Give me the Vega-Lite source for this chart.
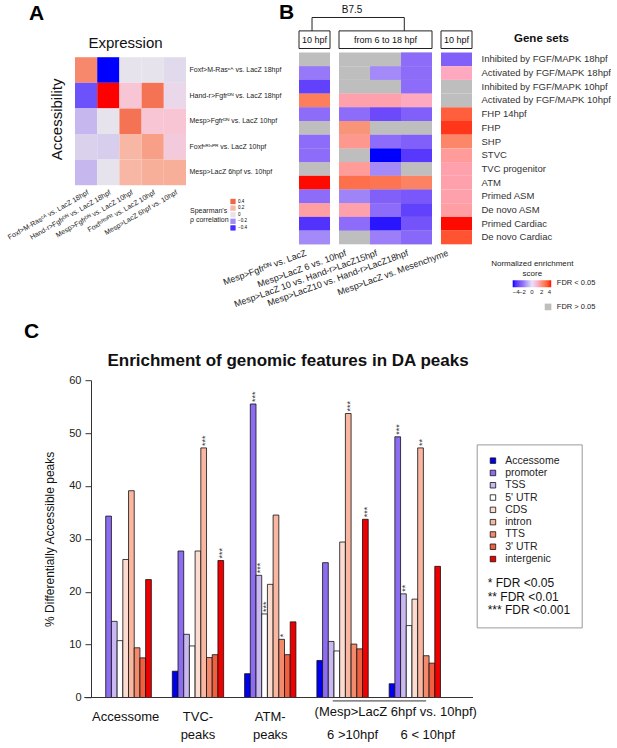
{
"$schema": "https://vega.github.io/schema/vega-lite/v6.json",
"background": "white",
"padding": {"left": 6, "top": 1.5, "right": 0, "bottom": 0},
"config": {
  "font": "Liberation Sans",
  "view": {"stroke": null},
  "axis": {"labelFont": "Liberation Sans", "titleFont": "Liberation Sans"},
  "legend": {"labelFont": "Liberation Sans", "titleFont": "Liberation Sans"},
  "title": {"font": "Liberation Sans", "color": "#000"}
},
"datasets": {
  "A": [
    {"acc": "Foxf>M-Rasᶜᴬ vs. LacZ 18hpf", "expr": "Foxf>M-Rasᶜᴬ vs. LacZ 18hpf", "rho": 0.32},
    {"acc": "Foxf>M-Rasᶜᴬ vs. LacZ 18hpf", "expr": "Hand-r>Fgfrᴰᴺ vs. LacZ 18hpf", "rho": -0.45},
    {"acc": "Foxf>M-Rasᶜᴬ vs. LacZ 18hpf", "expr": "Mesp>Fgfrᴰᴺ vs. LacZ 10hpf", "rho": 0.0},
    {"acc": "Foxf>M-Rasᶜᴬ vs. LacZ 18hpf", "expr": "Foxfᶜᴿᴵˢᴾᴿ vs. LacZ 10hpf", "rho": 0.0},
    {"acc": "Foxf>M-Rasᶜᴬ vs. LacZ 18hpf", "expr": "Mesp>LacZ 6hpf vs. 10hpf", "rho": -0.02},
    {"acc": "Hand-r>Fgfrᴰᴺ vs. LacZ 18hpf", "expr": "Foxf>M-Rasᶜᴬ vs. LacZ 18hpf", "rho": -0.33},
    {"acc": "Hand-r>Fgfrᴰᴺ vs. LacZ 18hpf", "expr": "Hand-r>Fgfrᴰᴺ vs. LacZ 18hpf", "rho": 0.5},
    {"acc": "Hand-r>Fgfrᴰᴺ vs. LacZ 18hpf", "expr": "Mesp>Fgfrᴰᴺ vs. LacZ 10hpf", "rho": 0.12},
    {"acc": "Hand-r>Fgfrᴰᴺ vs. LacZ 18hpf", "expr": "Foxfᶜᴿᴵˢᴾᴿ vs. LacZ 10hpf", "rho": 0.37},
    {"acc": "Hand-r>Fgfrᴰᴺ vs. LacZ 18hpf", "expr": "Mesp>LacZ 6hpf vs. 10hpf", "rho": 0.05},
    {"acc": "Mesp>Fgfrᴰᴺ vs. LacZ 10hpf", "expr": "Foxf>M-Rasᶜᴬ vs. LacZ 18hpf", "rho": -0.1},
    {"acc": "Mesp>Fgfrᴰᴺ vs. LacZ 10hpf", "expr": "Hand-r>Fgfrᴰᴺ vs. LacZ 18hpf", "rho": 0.0},
    {"acc": "Mesp>Fgfrᴰᴺ vs. LacZ 10hpf", "expr": "Mesp>Fgfrᴰᴺ vs. LacZ 10hpf", "rho": 0.37},
    {"acc": "Mesp>Fgfrᴰᴺ vs. LacZ 10hpf", "expr": "Foxfᶜᴿᴵˢᴾᴿ vs. LacZ 10hpf", "rho": 0.12},
    {"acc": "Mesp>Fgfrᴰᴺ vs. LacZ 10hpf", "expr": "Mesp>LacZ 6hpf vs. 10hpf", "rho": 0.12},
    {"acc": "Foxfᶜᴿᴵˢᴾᴿ vs. LacZ 10hpf", "expr": "Foxf>M-Rasᶜᴬ vs. LacZ 18hpf", "rho": -0.04},
    {"acc": "Foxfᶜᴿᴵˢᴾᴿ vs. LacZ 10hpf", "expr": "Hand-r>Fgfrᴰᴺ vs. LacZ 18hpf", "rho": -0.05},
    {"acc": "Foxfᶜᴿᴵˢᴾᴿ vs. LacZ 10hpf", "expr": "Mesp>Fgfrᴰᴺ vs. LacZ 10hpf", "rho": 0.2},
    {"acc": "Foxfᶜᴿᴵˢᴾᴿ vs. LacZ 10hpf", "expr": "Foxfᶜᴿᴵˢᴾᴿ vs. LacZ 10hpf", "rho": 0.26},
    {"acc": "Foxfᶜᴿᴵˢᴾᴿ vs. LacZ 10hpf", "expr": "Mesp>LacZ 6hpf vs. 10hpf", "rho": 0.1},
    {"acc": "Mesp>LacZ 6hpf vs. 10hpf", "expr": "Foxf>M-Rasᶜᴬ vs. LacZ 18hpf", "rho": -0.1},
    {"acc": "Mesp>LacZ 6hpf vs. 10hpf", "expr": "Hand-r>Fgfrᴰᴺ vs. LacZ 18hpf", "rho": 0.0},
    {"acc": "Mesp>LacZ 6hpf vs. 10hpf", "expr": "Mesp>Fgfrᴰᴺ vs. LacZ 10hpf", "rho": 0.2},
    {"acc": "Mesp>LacZ 6hpf vs. 10hpf", "expr": "Foxfᶜᴿᴵˢᴾᴿ vs. LacZ 10hpf", "rho": 0.22},
    {"acc": "Mesp>LacZ 6hpf vs. 10hpf", "expr": "Mesp>LacZ 6hpf vs. 10hpf", "rho": 0.22}
  ],
  "B": [
    {"k": "Mesp>Fgfrᴰᴺ vs. LacZ", "g": "Inhibited by FGF/MAPK 18hpf", "nes": null, "fdr": "FDR > 0.05"},
    {"k": "Mesp>Fgfrᴰᴺ vs. LacZ", "g": "Activated by FGF/MAPK 18hpf", "nes": -1.8, "fdr": "FDR < 0.05"},
    {"k": "Mesp>Fgfrᴰᴺ vs. LacZ", "g": "Inhibited by FGF/MAPK 10hpf", "nes": -3.0, "fdr": "FDR < 0.05"},
    {"k": "Mesp>Fgfrᴰᴺ vs. LacZ", "g": "Activated by FGF/MAPK 10hpf", "nes": 2.5, "fdr": "FDR < 0.05"},
    {"k": "Mesp>Fgfrᴰᴺ vs. LacZ", "g": "FHP 14hpf", "nes": -2.0, "fdr": "FDR < 0.05"},
    {"k": "Mesp>Fgfrᴰᴺ vs. LacZ", "g": "FHP", "nes": null, "fdr": "FDR > 0.05"},
    {"k": "Mesp>Fgfrᴰᴺ vs. LacZ", "g": "SHP", "nes": -2.0, "fdr": "FDR < 0.05"},
    {"k": "Mesp>Fgfrᴰᴺ vs. LacZ", "g": "STVC", "nes": -2.0, "fdr": "FDR < 0.05"},
    {"k": "Mesp>Fgfrᴰᴺ vs. LacZ", "g": "TVC progenitor", "nes": null, "fdr": "FDR > 0.05"},
    {"k": "Mesp>Fgfrᴰᴺ vs. LacZ", "g": "ATM", "nes": 4.0, "fdr": "FDR < 0.05"},
    {"k": "Mesp>Fgfrᴰᴺ vs. LacZ", "g": "Primed ASM", "nes": -2.0, "fdr": "FDR < 0.05"},
    {"k": "Mesp>Fgfrᴰᴺ vs. LacZ", "g": "De novo ASM", "nes": 1.6, "fdr": "FDR < 0.05"},
    {"k": "Mesp>Fgfrᴰᴺ vs. LacZ", "g": "Primed Cardiac", "nes": -3.3, "fdr": "FDR < 0.05"},
    {"k": "Mesp>Fgfrᴰᴺ vs. LacZ", "g": "De novo Cardiac", "nes": -1.5, "fdr": "FDR < 0.05"},
    {"k": "Mesp>LacZ 6 vs. 10hpf", "g": "Inhibited by FGF/MAPK 18hpf", "nes": null, "fdr": "FDR > 0.05"},
    {"k": "Mesp>LacZ 6 vs. 10hpf", "g": "Activated by FGF/MAPK 18hpf", "nes": null, "fdr": "FDR > 0.05"},
    {"k": "Mesp>LacZ 6 vs. 10hpf", "g": "Inhibited by FGF/MAPK 10hpf", "nes": null, "fdr": "FDR > 0.05"},
    {"k": "Mesp>LacZ 6 vs. 10hpf", "g": "Activated by FGF/MAPK 10hpf", "nes": 1.5, "fdr": "FDR < 0.05"},
    {"k": "Mesp>LacZ 6 vs. 10hpf", "g": "FHP 14hpf", "nes": -2.0, "fdr": "FDR < 0.05"},
    {"k": "Mesp>LacZ 6 vs. 10hpf", "g": "FHP", "nes": 2.0, "fdr": "FDR < 0.05"},
    {"k": "Mesp>LacZ 6 vs. 10hpf", "g": "SHP", "nes": 1.8, "fdr": "FDR < 0.05"},
    {"k": "Mesp>LacZ 6 vs. 10hpf", "g": "STVC", "nes": null, "fdr": "FDR > 0.05"},
    {"k": "Mesp>LacZ 6 vs. 10hpf", "g": "TVC progenitor", "nes": 1.7, "fdr": "FDR < 0.05"},
    {"k": "Mesp>LacZ 6 vs. 10hpf", "g": "ATM", "nes": 2.8, "fdr": "FDR < 0.05"},
    {"k": "Mesp>LacZ 6 vs. 10hpf", "g": "Primed ASM", "nes": -1.6, "fdr": "FDR < 0.05"},
    {"k": "Mesp>LacZ 6 vs. 10hpf", "g": "De novo ASM", "nes": 1.5, "fdr": "FDR < 0.05"},
    {"k": "Mesp>LacZ 6 vs. 10hpf", "g": "Primed Cardiac", "nes": -2.0, "fdr": "FDR < 0.05"},
    {"k": "Mesp>LacZ 6 vs. 10hpf", "g": "De novo Cardiac", "nes": null, "fdr": "FDR > 0.05"},
    {"k": "Mesp>LacZ 10 vs. Hand-r>LacZ15hpf", "g": "Inhibited by FGF/MAPK 18hpf", "nes": null, "fdr": "FDR > 0.05"},
    {"k": "Mesp>LacZ 10 vs. Hand-r>LacZ15hpf", "g": "Activated by FGF/MAPK 18hpf", "nes": -1.5, "fdr": "FDR < 0.05"},
    {"k": "Mesp>LacZ 10 vs. Hand-r>LacZ15hpf", "g": "Inhibited by FGF/MAPK 10hpf", "nes": null, "fdr": "FDR > 0.05"},
    {"k": "Mesp>LacZ 10 vs. Hand-r>LacZ15hpf", "g": "Activated by FGF/MAPK 10hpf", "nes": 1.5, "fdr": "FDR < 0.05"},
    {"k": "Mesp>LacZ 10 vs. Hand-r>LacZ15hpf", "g": "FHP 14hpf", "nes": -2.8, "fdr": "FDR < 0.05"},
    {"k": "Mesp>LacZ 10 vs. Hand-r>LacZ15hpf", "g": "FHP", "nes": null, "fdr": "FDR > 0.05"},
    {"k": "Mesp>LacZ 10 vs. Hand-r>LacZ15hpf", "g": "SHP", "nes": -2.0, "fdr": "FDR < 0.05"},
    {"k": "Mesp>LacZ 10 vs. Hand-r>LacZ15hpf", "g": "STVC", "nes": -4.0, "fdr": "FDR < 0.05"},
    {"k": "Mesp>LacZ 10 vs. Hand-r>LacZ15hpf", "g": "TVC progenitor", "nes": -1.5, "fdr": "FDR < 0.05"},
    {"k": "Mesp>LacZ 10 vs. Hand-r>LacZ15hpf", "g": "ATM", "nes": 2.7, "fdr": "FDR < 0.05"},
    {"k": "Mesp>LacZ 10 vs. Hand-r>LacZ15hpf", "g": "Primed ASM", "nes": -2.3, "fdr": "FDR < 0.05"},
    {"k": "Mesp>LacZ 10 vs. Hand-r>LacZ15hpf", "g": "De novo ASM", "nes": -2.0, "fdr": "FDR < 0.05"},
    {"k": "Mesp>LacZ 10 vs. Hand-r>LacZ15hpf", "g": "Primed Cardiac", "nes": -3.8, "fdr": "FDR < 0.05"},
    {"k": "Mesp>LacZ 10 vs. Hand-r>LacZ15hpf", "g": "De novo Cardiac", "nes": -1.7, "fdr": "FDR < 0.05"},
    {"k": "Mesp>LacZ10 vs. Hand-r>LacZ18hpf", "g": "Inhibited by FGF/MAPK 18hpf", "nes": -2.0, "fdr": "FDR < 0.05"},
    {"k": "Mesp>LacZ10 vs. Hand-r>LacZ18hpf", "g": "Activated by FGF/MAPK 18hpf", "nes": -2.0, "fdr": "FDR < 0.05"},
    {"k": "Mesp>LacZ10 vs. Hand-r>LacZ18hpf", "g": "Inhibited by FGF/MAPK 10hpf", "nes": -2.0, "fdr": "FDR < 0.05"},
    {"k": "Mesp>LacZ10 vs. Hand-r>LacZ18hpf", "g": "Activated by FGF/MAPK 10hpf", "nes": 1.3, "fdr": "FDR < 0.05"},
    {"k": "Mesp>LacZ10 vs. Hand-r>LacZ18hpf", "g": "FHP 14hpf", "nes": -2.3, "fdr": "FDR < 0.05"},
    {"k": "Mesp>LacZ10 vs. Hand-r>LacZ18hpf", "g": "FHP", "nes": null, "fdr": "FDR > 0.05"},
    {"k": "Mesp>LacZ10 vs. Hand-r>LacZ18hpf", "g": "SHP", "nes": -2.3, "fdr": "FDR < 0.05"},
    {"k": "Mesp>LacZ10 vs. Hand-r>LacZ18hpf", "g": "STVC", "nes": -3.2, "fdr": "FDR < 0.05"},
    {"k": "Mesp>LacZ10 vs. Hand-r>LacZ18hpf", "g": "TVC progenitor", "nes": null, "fdr": "FDR > 0.05"},
    {"k": "Mesp>LacZ10 vs. Hand-r>LacZ18hpf", "g": "ATM", "nes": 2.4, "fdr": "FDR < 0.05"},
    {"k": "Mesp>LacZ10 vs. Hand-r>LacZ18hpf", "g": "Primed ASM", "nes": -2.5, "fdr": "FDR < 0.05"},
    {"k": "Mesp>LacZ10 vs. Hand-r>LacZ18hpf", "g": "De novo ASM", "nes": -3.0, "fdr": "FDR < 0.05"},
    {"k": "Mesp>LacZ10 vs. Hand-r>LacZ18hpf", "g": "Primed Cardiac", "nes": -2.6, "fdr": "FDR < 0.05"},
    {"k": "Mesp>LacZ10 vs. Hand-r>LacZ18hpf", "g": "De novo Cardiac", "nes": -2.1, "fdr": "FDR < 0.05"},
    {"k": "Mesp>LacZ vs. Mesenchyme", "g": "Inhibited by FGF/MAPK 18hpf", "nes": -2.3, "fdr": "FDR < 0.05"},
    {"k": "Mesp>LacZ vs. Mesenchyme", "g": "Activated by FGF/MAPK 18hpf", "nes": 1.3, "fdr": "FDR < 0.05"},
    {"k": "Mesp>LacZ vs. Mesenchyme", "g": "Inhibited by FGF/MAPK 10hpf", "nes": null, "fdr": "FDR > 0.05"},
    {"k": "Mesp>LacZ vs. Mesenchyme", "g": "Activated by FGF/MAPK 10hpf", "nes": null, "fdr": "FDR > 0.05"},
    {"k": "Mesp>LacZ vs. Mesenchyme", "g": "FHP 14hpf", "nes": 3.1, "fdr": "FDR < 0.05"},
    {"k": "Mesp>LacZ vs. Mesenchyme", "g": "FHP", "nes": 3.7, "fdr": "FDR < 0.05"},
    {"k": "Mesp>LacZ vs. Mesenchyme", "g": "SHP", "nes": 2.3, "fdr": "FDR < 0.05"},
    {"k": "Mesp>LacZ vs. Mesenchyme", "g": "STVC", "nes": 1.7, "fdr": "FDR < 0.05"},
    {"k": "Mesp>LacZ vs. Mesenchyme", "g": "TVC progenitor", "nes": 1.5, "fdr": "FDR < 0.05"},
    {"k": "Mesp>LacZ vs. Mesenchyme", "g": "ATM", "nes": 1.5, "fdr": "FDR < 0.05"},
    {"k": "Mesp>LacZ vs. Mesenchyme", "g": "Primed ASM", "nes": 1.5, "fdr": "FDR < 0.05"},
    {"k": "Mesp>LacZ vs. Mesenchyme", "g": "De novo ASM", "nes": 1.6, "fdr": "FDR < 0.05"},
    {"k": "Mesp>LacZ vs. Mesenchyme", "g": "Primed Cardiac", "nes": 4.0, "fdr": "FDR < 0.05"},
    {"k": "Mesp>LacZ vs. Mesenchyme", "g": "De novo Cardiac", "nes": 3.3, "fdr": "FDR < 0.05"}
  ],
  "C": [
    {"group": "Accessome", "feature": "promoter", "pct": 34.3, "sig": ""},
    {"group": "Accessome", "feature": "TSS", "pct": 14.4, "sig": ""},
    {"group": "Accessome", "feature": "5' UTR", "pct": 10.75, "sig": ""},
    {"group": "Accessome", "feature": "CDS", "pct": 26.1, "sig": ""},
    {"group": "Accessome", "feature": "intron", "pct": 39.1, "sig": ""},
    {"group": "Accessome", "feature": "TTS", "pct": 9.4, "sig": ""},
    {"group": "Accessome", "feature": "3' UTR", "pct": 7.5, "sig": ""},
    {"group": "Accessome", "feature": "intergenic", "pct": 22.3, "sig": ""},
    {"group": "TVC-peaks", "feature": "Accessome", "pct": 4.97, "sig": ""},
    {"group": "TVC-peaks", "feature": "promoter", "pct": 27.7, "sig": ""},
    {"group": "TVC-peaks", "feature": "TSS", "pct": 11.95, "sig": ""},
    {"group": "TVC-peaks", "feature": "5' UTR", "pct": 9.75, "sig": ""},
    {"group": "TVC-peaks", "feature": "CDS", "pct": 27.7, "sig": ""},
    {"group": "TVC-peaks", "feature": "intron", "pct": 47.2, "sig": "***"},
    {"group": "TVC-peaks", "feature": "TTS", "pct": 7.55, "sig": ""},
    {"group": "TVC-peaks", "feature": "3' UTR", "pct": 8.1, "sig": ""},
    {"group": "TVC-peaks", "feature": "intergenic", "pct": 25.9, "sig": "***"},
    {"group": "ATM-peaks", "feature": "Accessome", "pct": 4.5, "sig": ""},
    {"group": "ATM-peaks", "feature": "promoter", "pct": 55.5, "sig": "***"},
    {"group": "ATM-peaks", "feature": "TSS", "pct": 23.1, "sig": "***"},
    {"group": "ATM-peaks", "feature": "5' UTR", "pct": 15.8, "sig": "***"},
    {"group": "ATM-peaks", "feature": "CDS", "pct": 21.4, "sig": ""},
    {"group": "ATM-peaks", "feature": "intron", "pct": 34.5, "sig": ""},
    {"group": "ATM-peaks", "feature": "TTS", "pct": 11.0, "sig": "*"},
    {"group": "ATM-peaks", "feature": "3' UTR", "pct": 8.1, "sig": ""},
    {"group": "ATM-peaks", "feature": "intergenic", "pct": 14.3, "sig": ""},
    {"group": "6 >10hpf", "feature": "Accessome", "pct": 7.0, "sig": ""},
    {"group": "6 >10hpf", "feature": "promoter", "pct": 25.5, "sig": ""},
    {"group": "6 >10hpf", "feature": "TSS", "pct": 10.6, "sig": ""},
    {"group": "6 >10hpf", "feature": "5' UTR", "pct": 8.8, "sig": ""},
    {"group": "6 >10hpf", "feature": "CDS", "pct": 29.4, "sig": ""},
    {"group": "6 >10hpf", "feature": "intron", "pct": 53.7, "sig": "***"},
    {"group": "6 >10hpf", "feature": "TTS", "pct": 10.1, "sig": ""},
    {"group": "6 >10hpf", "feature": "3' UTR", "pct": 9.2, "sig": ""},
    {"group": "6 >10hpf", "feature": "intergenic", "pct": 33.7, "sig": "***"},
    {"group": "6 < 10hpf", "feature": "Accessome", "pct": 2.6, "sig": ""},
    {"group": "6 < 10hpf", "feature": "promoter", "pct": 49.3, "sig": "***"},
    {"group": "6 < 10hpf", "feature": "TSS", "pct": 19.6, "sig": "**"},
    {"group": "6 < 10hpf", "feature": "5' UTR", "pct": 13.6, "sig": ""},
    {"group": "6 < 10hpf", "feature": "CDS", "pct": 18.6, "sig": ""},
    {"group": "6 < 10hpf", "feature": "intron", "pct": 47.2, "sig": "**"},
    {"group": "6 < 10hpf", "feature": "TTS", "pct": 7.9, "sig": ""},
    {"group": "6 < 10hpf", "feature": "3' UTR", "pct": 6.5, "sig": ""},
    {"group": "6 < 10hpf", "feature": "intergenic", "pct": 24.8, "sig": ""}
  ]
},
"bounds": "flush",
"spacing": 327.7,
"resolve": {"scale": {"color": "independent", "fill": "independent"}, "legend": {"color": "independent", "fill": "independent"}},
"vconcat": [
  {
    "bounds": "flush",
    "spacing": 113,
    "resolve": {"scale": {"color": "independent", "fill": "independent"}, "legend": {"color": "independent", "fill": "independent"}},
    "hconcat": [
      {
        "width": 111,
        "height": 132.7,
        "title": {"text": "A", "anchor": "start", "frame": "group", "dx": -46, "fontSize": 21, "fontWeight": "bold", "offset": 12},
        "data": {"name": "A"},
        "layer": [
          {
            "mark": {"type": "rect"},
            "encoding": {
              "x": {"field": "expr", "type": "nominal",
                    "scale": {"domain": ["Foxf>M-Rasᶜᴬ vs. LacZ 18hpf", "Hand-r>Fgfrᴰᴺ vs. LacZ 18hpf", "Mesp>Fgfrᴰᴺ vs. LacZ 10hpf", "Foxfᶜᴿᴵˢᴾᴿ vs. LacZ 10hpf", "Mesp>LacZ 6hpf vs. 10hpf"], "paddingInner": 0, "paddingOuter": 0},
                    "axis": {"orient": "bottom", "title": null, "labelAngle": -30, "labelFontSize": 7, "ticks": false, "domain": false, "labelPadding": 3, "labelLimit": 300, "labelColor": "#222"}},
              "y": {"field": "acc", "type": "nominal",
                    "scale": {"domain": ["Foxf>M-Rasᶜᴬ vs. LacZ 18hpf", "Hand-r>Fgfrᴰᴺ vs. LacZ 18hpf", "Mesp>Fgfrᴰᴺ vs. LacZ 10hpf", "Foxfᶜᴿᴵˢᴾᴿ vs. LacZ 10hpf", "Mesp>LacZ 6hpf vs. 10hpf"], "paddingInner": 0, "paddingOuter": 0.092, "align": 1},
                    "axis": {"orient": "right", "title": null, "labelFontSize": 7, "ticks": false, "domain": false, "labelPadding": 3, "labelLimit": 300, "labelColor": "#222"}},
              "color": {"field": "rho", "type": "quantitative",
                        "scale": {"type": "linear", "domain": [-0.45, -0.2, 0, 0.2, 0.4, 0.5], "range": ["#0000ff", "#a08ef0", "#e6e3ec", "#f8b7a4", "#f26648", "#ff0000"]},
                        "legend": {"type": "symbol", "values": [0.4, 0.2, 0, -0.2, -0.4], "format": "~g", "orient": "none", "legendX": 115, "legendY": 146,
                                   "title": ["Spearman's", "ρ correlation"], "titleOrient": "left", "titleFontSize": 7, "titleFontWeight": "normal", "titleColor": "#222", "titleLineHeight": 9, "titlePadding": 1,
                                   "symbolType": "square", "symbolSize": 28, "symbolStrokeWidth": 0, "symbolOpacity": 1, "labelFontSize": 4.5, "labelOffset": 2, "rowPadding": 0.6, "padding": 0, "direction": "vertical"}}
            }
          },
          {
            "mark": {"type": "rect", "opacity": 0},
            "encoding": {
              "x": {"field": "expr", "type": "nominal",
                    "axis": {"orient": "top", "labels": false, "ticks": false, "domain": false, "title": "Expression", "titleFontSize": 15, "titleFontWeight": "normal", "titleColor": "#111", "titlePadding": 2, "titleX": 50}},
              "y": {"field": "acc", "type": "nominal",
                    "axis": {"orient": "left", "labels": false, "ticks": false, "domain": false, "title": "Accessibility", "titleFontSize": 15, "titleFontWeight": "normal", "titleColor": "#111", "titlePadding": 11}}
            }
          }
        ],
        "resolve": {"axis": {"x": "independent", "y": "independent"}}
      },
      {
        "bounds": "flush",
        "spacing": 9,
        "resolve": {"scale": {"color": "independent", "fill": "independent"}, "legend": {"color": "independent", "fill": "independent"}},
        "hconcat": [
          {
            "width": 31,
            "height": 191.8,
            "title": {"text": "B", "anchor": "start", "frame": "group", "dx": -20, "fontSize": 21, "fontWeight": "bold", "offset": 7},
            "data": {"name": "B"},
            "transform": [{"filter": {"field": "k", "oneOf": ["Mesp>Fgfrᴰᴺ vs. LacZ"]}}],
            "layer": [
              {
                "mark": {"type": "rect", "color": "#bebebe"},
                "encoding": {
                  "x": {"field": "k", "type": "nominal", "scale": {"domain": ["Mesp>Fgfrᴰᴺ vs. LacZ"], "paddingInner": 0, "paddingOuter": 0},
                        "axis": {"title": null, "labelAngle": -20, "labelFontSize": 9, "ticks": false, "domain": false, "labelPadding": 4, "labelOffset": -10, "labelLimit": 300, "labelColor": "#222"}},
                  "y": {"field": "g", "type": "nominal", "scale": {"domain": ["Inhibited by FGF/MAPK 18hpf", "Activated by FGF/MAPK 18hpf", "Inhibited by FGF/MAPK 10hpf", "Activated by FGF/MAPK 10hpf", "FHP 14hpf", "FHP", "SHP", "STVC", "TVC progenitor", "ATM", "Primed ASM", "De novo ASM", "Primed Cardiac", "De novo Cardiac"], "paddingInner": 0, "paddingOuter": 0}, "axis": null}
                }
              },
              {
                "transform": [{"filter": "datum.nes !== null"}],
                "mark": {"type": "rect"},
                "encoding": {
                  "x": {"field": "k", "type": "nominal"},
                  "y": {"field": "g", "type": "nominal"},
                  "color": {"field": "nes", "type": "quantitative",
                            "scale": {"type": "linear", "domain": [-4, -2, 0, 2, 4], "range": ["#0000ff", "#8c6cf8", "#e6e2f2", "#f89478", "#ff0a00"]}, "legend": null}
                }
              },
              {
                "transform": [{"aggregate": [{"op": "count", "as": "n"}]}],
                "mark": {"type": "rect", "fill": "white", "stroke": "#222", "strokeWidth": 1, "height": 17.6, "yOffset": -19.65},
                "encoding": {"y": {"datum": "Inhibited by FGF/MAPK 18hpf"}}
              },
              {
                "transform": [{"aggregate": [{"op": "count", "as": "n"}]}],
                "mark": {"type": "text", "fontSize": 9, "baseline": "middle", "yOffset": -19.65, "color": "#111"},
                "encoding": {"y": {"datum": "Inhibited by FGF/MAPK 18hpf"}, "text": {"value": "10 hpf"}}
              }
            ]
          },
          {
            "width": 93,
            "height": 191.8,
            "data": {"name": "B"},
            "transform": [{"filter": {"field": "k", "oneOf": ["Mesp>LacZ 6 vs. 10hpf", "Mesp>LacZ 10 vs. Hand-r>LacZ15hpf", "Mesp>LacZ10 vs. Hand-r>LacZ18hpf"]}}],
            "layer": [
              {
                "mark": {"type": "rect", "color": "#bebebe"},
                "encoding": {
                  "x": {"field": "k", "type": "nominal", "scale": {"domain": ["Mesp>LacZ 6 vs. 10hpf", "Mesp>LacZ 10 vs. Hand-r>LacZ15hpf", "Mesp>LacZ10 vs. Hand-r>LacZ18hpf"], "paddingInner": 0, "paddingOuter": 0},
                        "axis": {"title": null, "labelAngle": -20, "labelFontSize": 9, "ticks": false, "domain": false, "labelPadding": 4, "labelOffset": -10, "labelLimit": 300, "labelColor": "#222"}},
                  "y": {"field": "g", "type": "nominal", "scale": {"domain": ["Inhibited by FGF/MAPK 18hpf", "Activated by FGF/MAPK 18hpf", "Inhibited by FGF/MAPK 10hpf", "Activated by FGF/MAPK 10hpf", "FHP 14hpf", "FHP", "SHP", "STVC", "TVC progenitor", "ATM", "Primed ASM", "De novo ASM", "Primed Cardiac", "De novo Cardiac"], "paddingInner": 0, "paddingOuter": 0}, "axis": null}
                }
              },
              {
                "transform": [{"filter": "datum.nes !== null"}],
                "mark": {"type": "rect"},
                "encoding": {
                  "x": {"field": "k", "type": "nominal"},
                  "y": {"field": "g", "type": "nominal"},
                  "color": {"field": "nes", "type": "quantitative",
                            "scale": {"type": "linear", "domain": [-4, -2, 0, 2, 4], "range": ["#0000ff", "#8c6cf8", "#e6e2f2", "#f89478", "#ff0a00"]}, "legend": null}
                }
              },
              {
                "transform": [{"aggregate": [{"op": "count", "as": "n"}]}],
                "mark": {"type": "rect", "fill": "white", "stroke": "#222", "strokeWidth": 1, "height": 17.6, "yOffset": -19.65},
                "encoding": {"y": {"datum": "Inhibited by FGF/MAPK 18hpf"}}
              },
              {
                "transform": [{"aggregate": [{"op": "count", "as": "n"}]}],
                "mark": {"type": "text", "fontSize": 9, "baseline": "middle", "yOffset": -19.65, "color": "#111"},
                "encoding": {"y": {"datum": "Inhibited by FGF/MAPK 18hpf"}, "text": {"value": "from 6 to 18 hpf"}}
              },
              {
                "transform": [{"aggregate": [{"op": "count", "as": "n"}]}],
                "mark": {"type": "rule", "color": "#222", "strokeWidth": 1},
                "encoding": {"x": {"datum": "Mesp>LacZ 6 vs. 10hpf", "bandPosition": -0.87}, "x2": {"datum": "Mesp>LacZ10 vs. Hand-r>LacZ18hpf", "bandPosition": 0.106}, "y": {"datum": "Inhibited by FGF/MAPK 18hpf", "bandPosition": -2.555}}
              },
              {
                "transform": [{"aggregate": [{"op": "count", "as": "n"}]}],
                "mark": {"type": "rule", "color": "#222", "strokeWidth": 1},
                "encoding": {"x": {"datum": "Mesp>LacZ 6 vs. 10hpf", "bandPosition": -0.87}, "y": {"datum": "Inhibited by FGF/MAPK 18hpf", "bandPosition": -2.555}, "y2": {"datum": "Inhibited by FGF/MAPK 18hpf", "bandPosition": -1.577}}
              },
              {
                "transform": [{"aggregate": [{"op": "count", "as": "n"}]}],
                "mark": {"type": "rule", "color": "#222", "strokeWidth": 1},
                "encoding": {"x": {"datum": "Mesp>LacZ10 vs. Hand-r>LacZ18hpf", "bandPosition": 0.106}, "y": {"datum": "Inhibited by FGF/MAPK 18hpf", "bandPosition": -2.555}, "y2": {"datum": "Inhibited by FGF/MAPK 18hpf", "bandPosition": -1.577}}
              },
              {
                "transform": [{"aggregate": [{"op": "count", "as": "n"}]}],
                "mark": {"type": "text", "fontSize": 10, "baseline": "middle", "align": "center", "color": "#111"},
                "encoding": {"x": {"datum": "Mesp>LacZ 6 vs. 10hpf", "bandPosition": 0.42}, "y": {"datum": "Inhibited by FGF/MAPK 18hpf", "bandPosition": -3.09}, "text": {"value": "B7.5"}}
              }
            ]
          },
          {
            "width": 31,
            "height": 191.8,
            "data": {"name": "B"},
            "transform": [{"filter": {"field": "k", "oneOf": ["Mesp>LacZ vs. Mesenchyme"]}}],
            "layer": [
              {
                "mark": {"type": "rect", "opacity": 1},
                "encoding": {
                  "x": {"field": "k", "type": "nominal", "scale": {"domain": ["Mesp>LacZ vs. Mesenchyme"], "paddingInner": 0, "paddingOuter": 0},
                        "axis": {"labelAngle": -20, "labelFontSize": 9, "ticks": false, "domain": false, "labelPadding": 4, "labelOffset": -10, "labelLimit": 300, "labelColor": "#222",
                                 "title": ["Normalized enrichment", "score"], "titleFontSize": 8, "titleFontWeight": "normal", "titleColor": "#222", "titleLineHeight": 10.3, "titleX": 90.85, "titleY": 15.4, "titleAlign": "center", "titleBaseline": "top", "titleAngle": 0}},
                  "y": {"field": "g", "type": "nominal", "scale": {"domain": ["Inhibited by FGF/MAPK 18hpf", "Activated by FGF/MAPK 18hpf", "Inhibited by FGF/MAPK 10hpf", "Activated by FGF/MAPK 10hpf", "FHP 14hpf", "FHP", "SHP", "STVC", "TVC progenitor", "ATM", "Primed ASM", "De novo ASM", "Primed Cardiac", "De novo Cardiac"], "paddingInner": 0, "paddingOuter": 0},
                        "axis": {"orient": "right", "ticks": false, "domain": false, "labelFontSize": 9.5, "labelPadding": 9, "labelColor": "#333", "labelLimit": 300,
                                 "title": "Gene sets", "titleAngle": 0, "titleX": 69, "titleY": -13.6, "titleAlign": "center", "titleBaseline": "middle", "titleFontSize": 11.5, "titleFontWeight": "bold", "titleColor": "#111"}},
                  "fill": {"field": "fdr", "type": "nominal", "scale": {"domain": ["FDR < 0.05", "FDR > 0.05"], "range": ["rgba(0,0,0,0)", "#bebebe"]},
                           "legend": {"orient": "none", "legendX": 103.3, "legendY": 226.7, "title": null, "symbolType": "square", "symbolSize": 44, "symbolStrokeWidth": 0, "symbolOpacity": 1,
                                      "labelFontSize": 7.5, "labelOffset": 5, "labelColor": "#222", "rowPadding": 15, "padding": 0}}
                }
              },
              {
                "transform": [{"filter": "datum.nes !== null"}],
                "mark": {"type": "rect"},
                "encoding": {
                  "x": {"field": "k", "type": "nominal"},
                  "y": {"field": "g", "type": "nominal"},
                  "color": {"field": "nes", "type": "quantitative",
                            "scale": {"type": "linear", "domain": [-4, -2, 0, 2, 4], "range": ["#0000ff", "#8c6cf8", "#e6e2f2", "#f89478", "#ff0a00"]},
                            "legend": {"type": "gradient", "direction": "horizontal", "orient": "none", "legendX": 71.7, "legendY": 227.7, "title": null, "values": [-4, -2, 0, 2, 4],
                                       "gradientLength": 38.5, "gradientThickness": 7, "gradientStrokeWidth": 0, "labelFontSize": 6, "labelAlign": "center", "labelOverlap": false, "labelOffset": 2, "labelColor": "#222", "padding": 0}}
                }
              },
              {
                "transform": [{"aggregate": [{"op": "count", "as": "n"}]}],
                "mark": {"type": "rect", "fill": "white", "stroke": "#222", "strokeWidth": 1, "height": 17.6, "yOffset": -19.65},
                "encoding": {"y": {"datum": "Inhibited by FGF/MAPK 18hpf"}}
              },
              {
                "transform": [{"aggregate": [{"op": "count", "as": "n"}]}],
                "mark": {"type": "text", "fontSize": 9, "baseline": "middle", "yOffset": -19.65, "color": "#111"},
                "encoding": {"y": {"datum": "Inhibited by FGF/MAPK 18hpf"}, "text": {"value": "10 hpf"}}
              }
            ]
          }
        ]
      }
    ]
  },
  {
    "width": 398,
    "height": 317.3,
    "title": {"text": "C", "anchor": "start", "frame": "group", "dx": -51, "fontSize": 21, "fontWeight": "bold", "offset": 9},
    "data": {"name": "C"},
    "layer": [
      {
        "mark": {"type": "bar", "stroke": "#111", "strokeWidth": 0.8},
        "encoding": {
          "x": {"field": "group", "type": "nominal",
                "scale": {"domain": ["Accessome", "TVC-peaks", "ATM-peaks", "6 >10hpf", "6 < 10hpf"], "paddingInner": 0.29, "paddingOuter": 0.398, "align": 0.435},
                "axis": {"orient": "bottom", "title": null, "domain": false, "ticks": false, "labelAngle": 0, "labelFontSize": 13, "labelPadding": 13, "labelLineHeight": 18, "labelColor": "#111",
                         "labelExpr": "datum.value == 'TVC-peaks' ? ['TVC-', 'peaks'] : datum.value == 'ATM-peaks' ? ['ATM-', 'peaks'] : datum.value == 'Accessome' ? 'Accessome' : ['', datum.value]",
                         "labelOffset": {"condition": [{"test": "datum.value == '6 >10hpf'", "value": 10}, {"test": "datum.value == '6 < 10hpf'", "value": 13}], "value": 0}}},
          "xOffset": {"field": "feature", "type": "nominal", "scale": {"domain": ["Accessome", "promoter", "TSS", "5' UTR", "CDS", "intron", "TTS", "3' UTR", "intergenic"], "paddingInner": 0, "paddingOuter": 0}},
          "y": {"field": "pct", "type": "quantitative", "scale": {"domain": [0, 60], "nice": false},
                "axis": {"orient": "left", "offset": -16, "values": [0, 10, 20, 30, 40, 50, 60], "grid": false, "tickSize": 6, "labelFontSize": 11, "labelPadding": 4, "labelColor": "#222", "domainColor": "#333", "tickColor": "#333",
                         "title": "% Differentially Accessible peaks", "titleFontSize": 12, "titleFontWeight": "normal", "titlePadding": 12, "titleColor": "#111"}},
          "color": {"field": "feature", "type": "nominal",
                    "scale": {"domain": ["Accessome", "promoter", "TSS", "5' UTR", "CDS", "intron", "TTS", "3' UTR", "intergenic"], "range": ["#0000ee", "#8c6cf0", "#c9b8f2", "#ffffff", "#fcdcd0", "#f9b6a0", "#f48a6c", "#ef5f40", "#ee0000"]},
                    "legend": {"orient": "none", "legendX": 401.7, "legendY": 64.2, "title": ["* FDR <0.05", "** FDR <0.01", "*** FDR <0.001"], "titleOrient": "bottom",
                               "titleFontSize": 12, "titleFontWeight": "normal", "titleLineHeight": 13.3, "titlePadding": 14, "titleColor": "#111",
                               "labelFontSize": 10.5, "labelColor": "#222", "labelOffset": 7, "symbolType": "square", "symbolSize": 30, "symbolStrokeColor": "#111", "symbolStrokeWidth": 0.8,
                               "strokeColor": "#999", "fillColor": "white", "padding": 11, "rowPadding": 1.3}}
        }
      },
      {
        "transform": [{"filter": "datum.sig != ''"}],
        "mark": {"type": "text", "angle": 270, "align": "left", "baseline": "middle", "dx": 2, "dy": 1.5, "fontSize": 9, "color": "#333"},
        "encoding": {
          "x": {"field": "group", "type": "nominal", "axis": null},
          "xOffset": {"field": "feature", "type": "nominal"},
          "y": {"field": "pct", "type": "quantitative"},
          "text": {"field": "sig"}
        }
      },
      {
        "transform": [{"aggregate": [{"op": "count", "as": "n"}]}],
        "mark": {"type": "rule", "color": "#333", "strokeWidth": 1},
        "encoding": {"x": {"datum": "Accessome", "bandPosition": -0.306, "axis": null}, "x2": {"value": "width"}, "y": {"datum": 0}}
      },
      {
        "transform": [{"aggregate": [{"op": "count", "as": "n"}]}],
        "mark": {"type": "rule", "color": "#333", "strokeWidth": 1},
        "encoding": {"x": {"datum": "6 >10hpf", "bandPosition": 0.31, "axis": null}, "x2": {"datum": "6 < 10hpf", "bandPosition": 0.72}, "y": {"datum": -0.65}}
      },
      {
        "transform": [{"aggregate": [{"op": "count", "as": "n"}]}],
        "mark": {"type": "text", "fontSize": 13, "dy": 14.7, "baseline": "middle", "align": "center", "color": "#111"},
        "encoding": {
          "x": {"datum": "6 >10hpf", "bandPosition": 1.536,
                "axis": {"orient": "top", "labels": false, "ticks": false, "domain": false, "title": "Enrichment of genomic features in DA peaks", "titleFontSize": 17, "titleFontWeight": "bold", "titleColor": "#111", "titleX": 212.5, "titleY": -20, "titleAlign": "center", "titleBaseline": "middle"}},
          "y": {"datum": 0},
          "text": {"value": "(Mesp>LacZ 6hpf vs. 10hpf)"}
        }
      }
    ],
    "resolve": {"axis": {"x": "independent"}}
  }
]
}
